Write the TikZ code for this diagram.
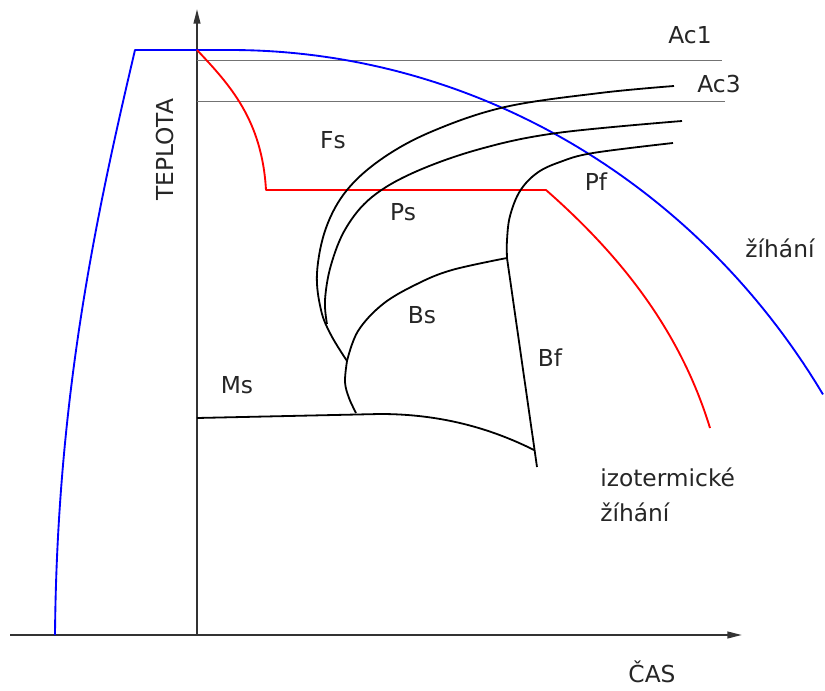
\documentclass[tikz,border=0pt]{standalone}
\usepackage{fontspec}
\setmainfont{DejaVu Sans}
\usetikzlibrary{arrows.meta}
\begin{document}
\begin{tikzpicture}[x=0.75pt,y=-0.75pt,
  axis/.style={line width=1.5pt,draw=black!80,-{Triangle[length=11pt,width=5pt]}},
  level/.style={line width=0.75pt,draw=black!55},
  curve/.style={line width=1.35pt,draw=black,line join=round},
  heat/.style={line width=1.4pt,draw=blue,line join=round},
  iso/.style={line width=1.4pt,draw=red,line join=round},
  lab/.style={font=\fontsize{17.5}{21}\selectfont,inner sep=0pt,text=black!85}]
\useasboundingbox[fill=white] (0,0) rectangle (825,691);
% axes
\coordinate (O) at (197,635);
\coordinate (xend) at (742,635);
\coordinate (xstart) at (10,635);
\coordinate (yend) at (197,9);
\draw[axis] (xstart) -- (xend);
\draw[axis] (O) -- (yend);
% level lines
\coordinate (a1s) at (197,61); \coordinate (a1e) at (722,61);
\coordinate (a3s) at (197,102); \coordinate (a3e) at (725,102);
\draw[level] (a1s) -- (a1e);
\draw[level] (a3s) -- (a3e);
% blue annealing curve
\draw[heat] (55,635) .. controls (57,400) and (95,220) .. (135,50) -- (230,50)
  -- plot[domain=0:593,samples=90] ({230+\x},{50+735*(1-sqrt(1-(\x/700)^2))});
% red isothermal annealing curve
\draw[iso] (197,50) .. controls (230,85) and (262,120) .. (266,190) -- (546,190)
  .. controls (620,255) and (680,330) .. (710,428);
% transformation curves
\coordinate (J) at (347,361);
\coordinate (K) at (507,258);
\draw[curve] plot[smooth,tension=0.6] coordinates {(674,86) (600,93) (505,107) (433,131) (383,158) (347,190) (326,228) (317,273) (321,310) (331,335) (347,361)};
\draw[curve] plot[smooth,tension=0.6] coordinates {(682,121) (557,133) (480,149) (415,172) (372,197) (346,228) (331,265) (325,300) (327,324)};
\draw[curve] plot[smooth,tension=0.6] coordinates {(673,143) (593,153) (560,162) (537,173) (520,191) (510,216) (507,240) (507,258)};
\draw[curve] (K) -- (537,467);
\draw[curve] plot[smooth,tension=0.6] coordinates {(347,361) (358,331) (383,304) (417,284) (452,270) (507,258)};
\draw[curve] plot[smooth,tension=0.6] coordinates {(347,361) (345,382) (349,398) (356,413)};
\draw[curve] (197,418) -- (380,414) .. controls (440,414) and (490,428) .. (534,450);
% labels
\node[lab] (ac1) at (690,35) {Ac1};
\node[lab] (ac3) at (719,84) {Ac3};
\node[lab] (fs) at (333,140) {Fs};
\node[lab] (ps) at (403,212) {Ps};
\node[lab] (pf) at (596,182) {Pf};
\node[lab] (bs) at (422,315) {Bs};
\node[lab] (bf) at (550,358) {Bf};
\node[lab] (ms) at (237,385) {Ms};
\node[lab] (zih) at (780,248) {žíhání};
\node[lab,anchor=west] (izo) at (600,477) {izotermické};
\node[lab,anchor=west] (izo2) at (600,512) {žíhání};
\node[lab] (cas) at (652,672) {ČAS};
\node[lab,rotate=90] (tep) at (165,150) {TEPLOTA};
\end{tikzpicture}
\end{document}
